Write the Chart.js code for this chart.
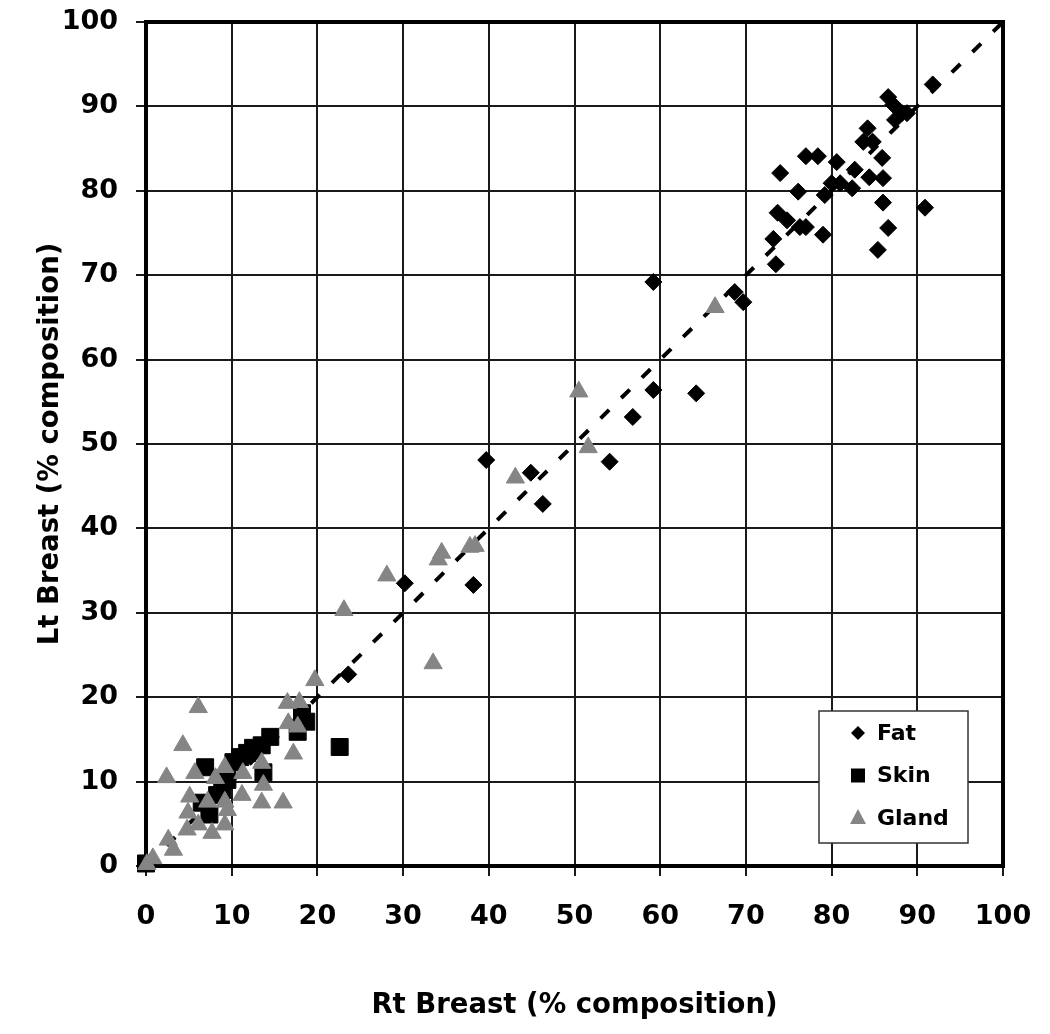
<!DOCTYPE html>
<html>
<head>
  <title>Rt vs Lt Breast composition</title>
  <script src="https://cdn.jsdelivr.net/npm/chart.js"></script>
  <style>
    body { margin: 0; background: #fff; }
  </style>
</head>
<body>
  <canvas id="compChart" width="1050" height="1034"></canvas>

  <script>
    // values (x = Rt breast, y = Lt breast, % composition)
    var fatRt = [91.8, 86.6, 87.2, 88.2, 87.4, 88.8, 84.2, 83.7, 84.8, 85.9, 84.4, 86.0, 86.0, 86.6, 85.4, 90.9,
                 80.6, 82.7, 80.0, 81.0, 82.4, 79.2, 77.0, 78.4, 74.0, 76.1, 73.7, 74.8, 76.3, 77.0, 79.0, 73.2,
                 73.5, 68.7, 69.7, 59.2, 59.2, 64.2, 56.8, 54.1, 39.7, 44.9, 46.3, 30.2, 38.2, 23.6];
    var fatLt = [92.6, 91.1, 90.2, 89.2, 88.4, 89.2, 87.4, 85.8, 85.8, 83.9, 81.6, 81.5, 78.6, 75.6, 73.0, 78.0,
                 83.4, 82.5, 80.9, 80.9, 80.3, 79.5, 84.1, 84.1, 82.1, 79.9, 77.4, 76.5, 75.7, 75.7, 74.8, 74.3,
                 71.3, 68.0, 66.8, 69.2, 56.4, 56.0, 53.2, 47.9, 48.1, 46.6, 42.9, 33.5, 33.3, 22.7];

    var skinRt = [18.2, 18.7, 17.7, 22.6, 14.5, 13.5, 12.5, 11.8, 11.0, 10.2, 13.7, 6.9, 9.5, 8.9, 8.3, 6.5, 7.4, 0.0];
    var skinLt = [18.1, 17.1, 15.9, 14.1, 15.3, 14.3, 14.0, 13.4, 12.9, 12.3, 11.1, 11.7, 10.2, 9.0, 8.4, 7.5, 6.1, 0.3];

    var glandRt = [66.4, 50.5, 51.6, 43.1, 37.8, 38.4, 34.5, 34.1, 28.1, 23.1, 33.5, 19.7, 16.5, 17.9, 16.6, 17.7,
                   17.2, 6.1, 4.3, 2.4, 5.7, 9.2, 11.3, 13.5, 8.1, 13.7, 11.2, 13.5, 16.0, 5.1, 7.2, 9.2,
                   4.9, 6.1, 4.8, 7.7, 9.2, 9.5, 2.6, 3.2, 0.8, 0.1];
    var glandLt = [66.2, 56.2, 49.6, 46.0, 37.8, 37.9, 37.1, 36.3, 34.4, 30.3, 24.0, 22.0, 19.3, 19.4, 16.9, 16.5,
                   13.3, 18.8, 14.3, 10.5, 11.0, 11.7, 11.0, 12.2, 10.4, 9.6, 8.4, 7.5, 7.5, 8.2, 7.6, 7.6,
                   6.3, 4.9, 4.3, 3.9, 4.9, 6.6, 3.1, 1.9, 0.9, 0.2];

    var lineOfIdentity = [0, 100];

    var axisMin = 0, axisMax = 100, axisStep = 10;

    function toPoints(xs, ys) {
      var pts = [];
      for (var i = 0; i < xs.length; i++) {
        pts.push({ x: xs[i], y: ys[i] });
      }
      return pts;
    }

    var fontFamily = "'DejaVu Sans', sans-serif";
    var gland = "#858585";

    // frame round the plot area, drawn over the grid but under the markers
    var framePlugin = {
      id: "frame",
      beforeDatasetsDraw: function(chart) {
        var a = chart.chartArea, ctx = chart.ctx;
        ctx.save();
        ctx.strokeStyle = "#000";
        ctx.lineWidth = 4;
        ctx.strokeRect(a.left, a.top, a.right - a.left, a.bottom - a.top);
        ctx.restore();
      }
    };

    // boxed legend inside the lower right corner
    var boxLegend = {
      id: "boxLegend",
      afterDraw: function(chart) {
        var ctx = chart.ctx;
        var bx = 819, by = 711, bw = 149, bh = 132;
        ctx.save();
        ctx.fillStyle = "#fff";
        ctx.fillRect(bx, by, bw, bh);
        ctx.strokeStyle = "#333";
        ctx.lineWidth = 1.5;
        ctx.strokeRect(bx, by, bw, bh);

        var rows = chart.data.datasets.filter(function(d) { return d.inLegend; });
        rows.sort(function(a, b) { return a.legendRow - b.legendRow; });
        rows.forEach(function(ds, i) {
          var cx = 858, cy = 733 + i * 42.5;
          ctx.fillStyle = ds.backgroundColor;
          ctx.beginPath();
          if (ds.pointStyle === "rectRot") {
            ctx.moveTo(cx, cy - 7); ctx.lineTo(cx + 7, cy); ctx.lineTo(cx, cy + 7); ctx.lineTo(cx - 7, cy);
          } else if (ds.pointStyle === "rect") {
            ctx.rect(cx - 7, cy - 7, 14, 14);
          } else {
            ctx.moveTo(cx, cy - 9); ctx.lineTo(cx + 8, cy + 6); ctx.lineTo(cx - 8, cy + 6);
          }
          ctx.closePath();
          ctx.fill();
          ctx.fillStyle = "#000";
          ctx.font = "bold 22px " + fontFamily;
          ctx.textBaseline = "middle";
          ctx.textAlign = "left";
          ctx.fillText(ds.label, 877, cy + 1);
        });
        ctx.restore();
      }
    };

    var tickFont = { family: fontFamily, size: 27, weight: "bold" };
    var titleFont = { family: fontFamily, size: 27.5, weight: "bold" };

    var compChart = new Chart("compChart", {
      type: "scatter",
      data: {
        datasets: [{
          label: "Gland",
          data: toPoints(glandRt, glandLt),
          pointStyle: "triangle",
          pointRadius: 10.5,
          backgroundColor: gland,
          borderColor: gland,
          borderWidth: 1,
          order: 0,
          inLegend: true,
          legendRow: 2
        }, {
          label: "Skin",
          data: toPoints(skinRt, skinLt),
          pointStyle: "rect",
          pointRadius: 12,
          backgroundColor: "#000",
          borderColor: "#000",
          borderWidth: 1,
          order: 1,
          inLegend: true,
          legendRow: 1
        }, {
          label: "Fat",
          data: toPoints(fatRt, fatLt),
          pointStyle: "rectRot",
          pointRadius: 8.5,
          backgroundColor: "#000",
          borderColor: "#000",
          borderWidth: 1,
          order: 2,
          inLegend: true,
          legendRow: 0
        }, {
          type: "line",
          label: "identity",
          data: toPoints(lineOfIdentity, lineOfIdentity),
          borderColor: "#000",
          borderWidth: 4,
          borderDash: [12, 17],
          pointRadius: 0,
          fill: false,
          order: 3
        }]
      },
      options: {
        responsive: false,
        animation: false,
        clip: false,
        layout: {
          padding: { left: 0, right: 47, top: 22, bottom: 0 }
        },
        plugins: {
          legend: { display: false },
          tooltip: { enabled: false }
        },
        scales: {
          x: {
            type: "linear",
            min: axisMin,
            max: axisMax,
            ticks: { stepSize: axisStep, font: tickFont, color: "#000", padding: 25, maxRotation: 0 },
            grid: { color: "#1a1a1a", lineWidth: 2, tickLength: 10 },
            border: { display: false },
            title: {
              display: true,
              text: "Rt Breast (% composition)",
              font: titleFont,
              color: "#000",
              padding: { top: 12, bottom: 12 }
            },
            afterFit: function(scale) {
              scale.height = 168;
              scale.paddingLeft = 0;
              scale.paddingRight = 0;
            }
          },
          y: {
            type: "linear",
            min: axisMin,
            max: axisMax,
            ticks: { stepSize: axisStep, font: tickFont, color: "#000", padding: 18 },
            grid: { color: "#1a1a1a", lineWidth: 2, tickLength: 10 },
            border: { display: false },
            title: {
              display: true,
              text: "Lt Breast (% composition)",
              font: titleFont,
              color: "#000",
              padding: { top: 34, bottom: 34 }
            },
            afterFit: function(scale) {
              scale.width = 146;
              scale.paddingTop = 0;
              scale.paddingBottom = 0;
            }
          }
        }
      },
      plugins: [framePlugin, boxLegend]
    });
  </script>
</body>
</html>
